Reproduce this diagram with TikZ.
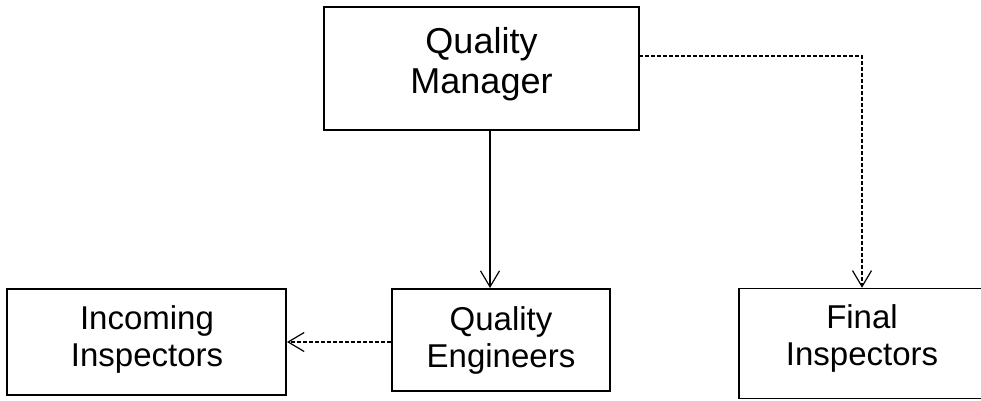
\documentclass[tikz,border=0pt]{standalone}
\usepackage{fontspec}
\setmainfont{Liberation Sans}
\usetikzlibrary{arrows.meta}
\begin{document}
\begin{tikzpicture}[x=1pt,y=-1pt,
  box/.style={draw=black,line width=2pt,inner sep=0pt},
  lblbig/.style={align=center,font=\fontsize{36}{39.5}\selectfont,inner sep=0pt},
  lbl/.style={align=center,font=\fontsize{33}{37}\selectfont,inner sep=0pt},
  solidlink/.style={line width=1.2pt,-{Straight Barb[length=16pt,width=19pt,line width=1.2pt]}},
  dashlink/.style={line width=1.2pt,dash pattern=on 4pt off 2pt,-{Straight Barb[length=16pt,width=19pt,line width=1.2pt]}}]
\useasboundingbox (0,0) rectangle (981,400);
% boxes
\node[box,minimum width=315pt,minimum height=123pt] (qm) at (481.5,68.5) {};
\node[box,minimum width=279pt,minimum height=106pt] (ii) at (146.5,342) {};
\node[box,minimum width=218pt,minimum height=102pt] (qe) at (501,340) {};
\node[box,line width=1.5pt,minimum width=246pt,minimum height=110pt] (fi) at (862,343.5) {};
% labels (base = baseline of the last line)
\node[lblbig,anchor=base] (qmt) at (481.5,93) {Quality\\Manager};
\node[lbl,anchor=base] (iit) at (147,366) {Incoming\\Inspectors};
\node[lbl,anchor=base] (qet) at (501,367) {Quality\\Engineers};
\node[lbl,anchor=base] (fit) at (862,365) {Final\\Inspectors};
% connectors
\coordinate (qmdrop) at (490,130);
\draw[solidlink] (qmdrop) -- (qmdrop |- qe.north);
\draw[dashlink] (qe.west |- ii.east) -- (ii.east);
\coordinate (qmside) at (639,56);
\draw[dashlink] (qmside) -| (fi.north);
\end{tikzpicture}
\end{document}
